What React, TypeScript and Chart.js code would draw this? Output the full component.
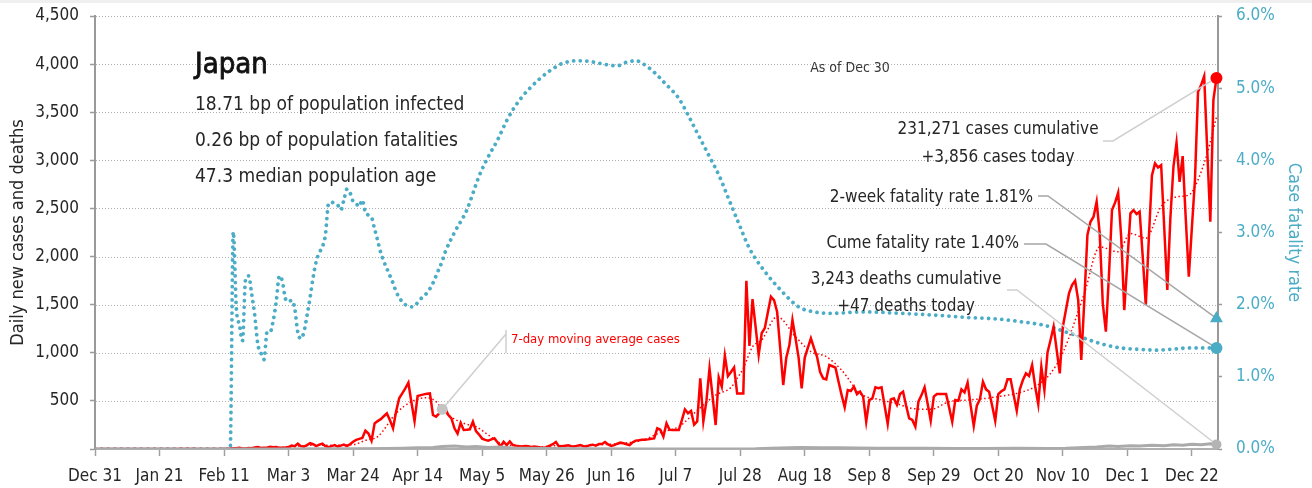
import React, { useEffect, useRef } from "react";
import { Chart, registerables } from "chart.js";

Chart.register(...registerables);

const FONT = '"DejaVu Sans Condensed", "Liberation Sans Narrow", "Arial Narrow", sans-serif';
const RED = "#ff0000";
const TEAL = "#4bacc6";
const TEXT = "#262626";
const LIGHT_LEADER = "#cfcfcf";
const DARK_LEADER = "#a6a6a6";

// x axis: day index from Dec 31, 2019
const TICK_DAYS = [0, 21, 42, 63, 84, 105, 126, 147, 168, 189, 210, 231, 252, 273, 294, 315, 336, 357];
const TICK_LABELS = ["Dec 31", "Jan 21", "Feb 11", "Mar 3", "Mar 24", "Apr 14", "May 5", "May 26", "Jun 16", "Jul 7", "Jul 28", "Aug 18", "Sep 8", "Sep 29", "Oct 20", "Nov 10", "Dec 1", "Dec 22"];
const CASE_TICKS = [0, 500, 1000, 1500, 2000, 2500, 3000, 3500, 4000, 4500];
const RATE_TICKS = [0, 1, 2, 3, 4, 5, 6];

// daily new cases, one value per day starting Dec 31
const DAILY_CASES = [
  0, 0, 0, 0, 0, 0, 0, 0, 0, 0,
  0, 0, 0, 0, 0, 0, 1, 0, 0, 0,
  0, 0, 0, 1, 1, 0, 0, 1, 2, 1,
  3, 0, 2, 0, 0, 1, 0, 0, 1, 0,
  0, 1, 2, 1, 4, 8, 9, 12, 5, 6,
  10, 8, 15, 20, 10, 12, 14, 24, 18, 20,
  12, 14, 16, 20, 35, 30, 55, 30, 25, 40,
  60, 50, 30, 45, 55, 30, 20, 30, 40, 25,
  35, 45, 30, 50, 76, 95, 105, 115, 190, 160,
  87, 265, 290, 310, 340, 370, 300, 215, 390, 527,
  578, 630, 689, 480, 291, 551, 560, 568, 575, 578,
  353, 336, 370, 400, 422, 353, 319, 215, 160, 270,
  197, 200, 205, 285, 185, 150, 108, 95, 87, 100,
  111, 70, 28, 76, 40, 78, 41, 35, 30, 25,
  30, 28, 22, 25, 20, 15, 10, 20, 35, 50,
  73, 26, 30, 35, 38, 30, 25, 35, 40, 28,
  25, 40, 45, 35, 52, 52, 73, 48, 31, 40,
  55, 66, 60, 50, 41, 70, 87, 90, 97, 95,
  100, 107, 110, 215, 200, 128, 267, 200, 197, 197,
  197, 300, 412, 371, 396, 253, 287, 734, 287, 500,
  838, 550, 249, 745, 648, 970, 758, 800, 848, 578,
  578, 578, 1749, 1070, 1558, 1271, 977, 1205, 1257, 1420,
  1583, 1548, 1427, 1050, 665, 950, 1080, 1340, 1150, 950,
  630, 950, 1050, 1150, 1050, 959, 800, 734, 724, 873,
  860, 845, 700, 560, 433, 613, 603, 648, 570, 596,
  544, 284, 509, 526, 641, 631, 641, 450, 260, 516,
  526, 460, 571, 596, 450, 319, 302, 232, 492, 560,
  641, 470, 294, 544, 571, 571, 571, 571, 430, 284,
  509, 502, 620, 589, 689, 450, 239, 450, 516, 699,
  620, 596, 450, 294, 571, 600, 620, 724, 724, 560,
  398, 620, 717, 786, 759, 873, 650, 467, 855, 613,
  1000, 1132, 1271, 1029, 786, 1271, 1444, 1617, 1704, 1749,
  1548, 925, 1548, 2224, 2362, 2414, 2570, 2241, 1514, 1219,
  1800, 2483, 2560, 2663, 2200, 1444, 1950, 2449, 2483, 2442,
  2466, 2000, 1496, 2200, 2843, 2968, 2926, 2950, 2300, 1652,
  2400, 2933, 3183, 2777, 3044, 2400, 1790, 2300, 2795, 3713,
  3782, 3875, 3100, 2362, 3626, 3856,
];

// 7-day moving average of cases (read at selected days)
const MA_DAYS = [44, 49, 56, 63, 70, 77, 84, 88, 92, 98, 103, 108, 111, 113, 116, 120, 124, 128, 132, 137, 144, 151, 158, 165, 172, 178, 184, 190, 196, 202, 207, 209, 211, 214, 217, 222, 228, 233, 238, 243, 249, 256, 261, 266, 272, 278, 284, 290, 295, 300, 306, 311, 315, 322, 327, 333, 337, 342, 347, 352, 356, 358, 362, 365];
const MA_VALUES = [3, 8, 14, 20, 38, 40, 45, 90, 128, 371, 492, 533, 492, 412, 330, 267, 232, 146, 59, 33, 22, 35, 35, 45, 60, 90, 170, 232, 400, 560, 640, 734, 838, 1063, 1133, 1375, 1167, 1011, 960, 820, 578, 509, 470, 422, 412, 491, 509, 526, 550, 578, 648, 786, 1000, 1617, 2100, 2050, 2240, 2190, 2520, 2620, 2640, 2726, 3072, 3450];

// daily deaths
const DEATH_DAYS = [0, 44, 60, 75, 85, 95, 100, 105, 110, 113, 117, 121, 124, 128, 132, 136, 140, 147, 160, 180, 200, 215, 220, 226, 230, 236, 242, 248, 255, 262, 270, 280, 290, 300, 310, 316, 322, 326, 330, 333, 337, 340, 344, 348, 351, 354, 357, 360, 363, 365];
const DEATH_VALUES = [0, 1, 1, 2, 3, 5, 8, 12, 15, 25, 30, 20, 25, 15, 20, 10, 8, 5, 2, 1, 1, 3, 8, 12, 15, 12, 13, 10, 9, 8, 8, 6, 5, 7, 6, 8, 15, 20, 30, 25, 35, 30, 40, 35, 45, 40, 50, 45, 55, 47];

// cumulative case fatality rate, %
const CFR_DAYS = [0, 44, 45, 46, 47, 48, 49, 50, 51, 52, 53, 54, 55, 56, 57, 58, 59, 60, 61, 62, 63, 64, 65, 66, 67, 68, 69, 70, 71, 72, 73, 74, 75, 76, 77, 78, 79, 80, 81, 82, 83, 84, 85, 86, 87, 88, 89, 90, 91, 92, 93, 94, 95, 96, 97, 98, 99, 100, 101, 102, 103, 104, 105, 106, 107, 108, 109, 110, 111, 112, 113, 114, 117, 121, 125, 128, 131, 134, 136, 139, 142, 145, 148, 152, 157, 161, 166, 170, 173, 176, 180, 183, 185, 188, 190, 193, 196, 200, 203, 206, 209, 213, 218, 223, 229, 234, 240, 250, 262, 275, 285, 294, 302, 307, 312, 316, 321, 325, 329, 334, 340, 345, 350, 356, 365];
const CFR_VALUES = [0, 0, 3.01, 1.95, 1.72, 1.5, 2.35, 2.4, 2.15, 1.85, 1.45, 1.33, 1.24, 1.62, 1.62, 1.78, 2.05, 2.4, 2.32, 2.08, 2.04, 2.06, 1.95, 1.62, 1.53, 1.62, 1.85, 2.1, 2.38, 2.6, 2.72, 2.8, 2.97, 3.4, 3.42, 3.4, 3.38, 3.31, 3.45, 3.6, 3.55, 3.43, 3.4, 3.36, 3.45, 3.28, 3.24, 3.21, 3.05, 2.89, 2.72, 2.6, 2.5, 2.4, 2.3, 2.18, 2.1, 2.04, 2.0, 1.98, 1.97, 1.98, 2.03, 2.08, 2.12, 2.16, 2.22, 2.3, 2.4, 2.5, 2.6, 2.73, 3.0, 3.31, 3.78, 4.05, 4.28, 4.55, 4.7, 4.88, 5.02, 5.14, 5.24, 5.34, 5.38, 5.37, 5.33, 5.31, 5.36, 5.38, 5.29, 5.18, 5.09, 4.96, 4.86, 4.63, 4.38, 4.05, 3.8, 3.49, 3.18, 2.78, 2.46, 2.21, 1.97, 1.9, 1.88, 1.9, 1.88, 1.85, 1.82, 1.8, 1.76, 1.73, 1.68, 1.62, 1.55, 1.49, 1.44, 1.4, 1.38, 1.37, 1.38, 1.4, 1.4];

const LAST_DAY = 365;
const CASES_TODAY = 3856;
const DEATHS_TODAY = 47;
const CFR_TWO_WEEK = 1.81;
const CFR_CUME = 1.4;
const MA_LABEL_DAY = 113;
const MA_LABEL_VALUE = 412;

const TITLE = "Japan";
const INFO_LINES = ["18.71 bp of population infected", "0.26 bp of population fatalities", "47.3 median population age"];
const AS_OF = "As of Dec 30";
const CASES_NOTE = ["231,271 cases cumulative", "+3,856 cases today"];
const TWO_WEEK_NOTE = "2-week fatality rate 1.81%";
const CUME_NOTE = "Cume fatality rate 1.40%";
const DEATHS_NOTE = ["3,243 deaths cumulative", "+47 deaths today"];
const MA_NOTE = "7-day moving average cases";

const f = (size: number, weight = "normal") => `${weight} ${size}px ${FONT}`;

const overlay = {
  id: "overlay",
  beforeDraw(chart: any) {
    const { ctx, width, height } = chart;
    ctx.save();
    ctx.fillStyle = "#ffffff";
    ctx.fillRect(0, 0, width, height);
    ctx.fillStyle = "#efefef";
    ctx.fillRect(0, 0, width, 3);
    ctx.restore();
  },
  beforeDatasetsDraw(chart: any) {
    const { ctx, scales, chartArea } = chart;
    const ys = scales.y;
    ctx.save();
    ctx.strokeStyle = "#b0b0b0";
    ctx.lineWidth = 1;
    ctx.setLineDash([1, 2]);
    CASE_TICKS.forEach((v) => {
      if (v === 0) return;
      const y = Math.round(ys.getPixelForValue(v)) + 0.5;
      ctx.beginPath();
      ctx.moveTo(chartArea.left + 1, y);
      ctx.lineTo(chartArea.right - 1, y);
      ctx.stroke();
    });
    ctx.restore();
  },
  afterDatasetDraw(chart: any, args: any) {
    if (args.index !== 3) return;
    const { ctx, scales } = chart;
    const xs = scales.x;
    const ys = scales.y;
    const yr = scales.y1;
    const mx = xs.getPixelForValue(LAST_DAY);
    const seg = (pts: number[][], color: string) => {
      ctx.save();
      ctx.strokeStyle = color;
      ctx.lineWidth = 1.5;
      ctx.beginPath();
      pts.forEach((p, i) => (i === 0 ? ctx.moveTo(p[0], p[1]) : ctx.lineTo(p[0], p[1])));
      ctx.stroke();
      ctx.restore();
    };
    seg([[1103, 141], [1113, 141], [mx, ys.getPixelForValue(CASES_TODAY)]], LIGHT_LEADER);
    seg([[1038, 196], [1048, 196], [mx, yr.getPixelForValue(CFR_TWO_WEEK)]], DARK_LEADER);
    seg([[1024, 244], [1046, 244], [mx, yr.getPixelForValue(CFR_CUME)]], DARK_LEADER);
    seg([[1007, 290], [1017, 290], [mx, ys.getPixelForValue(DEATHS_TODAY)]], LIGHT_LEADER);
    seg([[506, 330], [506, 353]], LIGHT_LEADER);
    seg([[506, 334], [xs.getPixelForValue(MA_LABEL_DAY), ys.getPixelForValue(MA_LABEL_VALUE)]], LIGHT_LEADER);
  },
  afterDraw(chart: any) {
    const { ctx } = chart;
    ctx.save();
    ctx.textBaseline = "alphabetic";
    ctx.fillStyle = "#111111";
    ctx.strokeStyle = "#111111";
    ctx.lineWidth = 0.8;
    ctx.textAlign = "left";
    ctx.font = f(29);
    ctx.fillText(TITLE, 195, 73);
    ctx.strokeText(TITLE, 195, 73);
    ctx.fillStyle = TEXT;
    ctx.font = f(19);
    INFO_LINES.forEach((t, i) => ctx.fillText(t, 195, 110 + i * 36));
    ctx.font = f(14);
    ctx.fillStyle = "#363636";
    ctx.textAlign = "center";
    ctx.fillText(AS_OF, 850, 72);
    ctx.fillStyle = TEXT;
    ctx.font = f(17);
    ctx.fillText(CASES_NOTE[0], 998, 134);
    ctx.fillText(CASES_NOTE[1], 998, 162);
    ctx.fillText(DEATHS_NOTE[0], 906, 284);
    ctx.fillText(DEATHS_NOTE[1], 906, 311);
    ctx.textAlign = "right";
    ctx.fillText(TWO_WEEK_NOTE, 1033, 202);
    ctx.fillText(CUME_NOTE, 1019, 248);
    ctx.textAlign = "left";
    ctx.fillStyle = RED;
    ctx.font = f(13);
    ctx.fillText(MA_NOTE, 511, 343);
    ctx.restore();
  },
};

export default function App() {
  const ref = useRef<HTMLCanvasElement>(null);
  useEffect(() => {
    document.body.style.margin = "0";
    const canvas = ref.current;
    if (!canvas) return;
    const marker = (x: number, y: number, axis: string, color: string, r: number, style = "circle", order = 0) => ({
      label: "marker",
      data: [{ x, y }],
      yAxisID: axis,
      showLine: false,
      pointRadius: r,
      pointStyle: style,
      pointBackgroundColor: color,
      pointBorderColor: color,
      pointBorderWidth: 0,
      order,
      clip: false,
    });
    const chart = new Chart(canvas, {
      type: "line",
      data: {
        datasets: [
          {
            label: "Case fatality rate",
            data: CFR_DAYS.map((d, i) => ({ x: d, y: CFR_VALUES[i] })),
            yAxisID: "y1",
            borderColor: TEAL,
            borderWidth: 3.8,
            borderCapStyle: "round",
            borderDash: [0.01, 6.6],
            cubicInterpolationMode: "monotone",
            pointRadius: 0,
            order: 6,
          },
          {
            label: "Daily cases",
            data: DAILY_CASES.map((v, i) => ({ x: i, y: v })),
            yAxisID: "y",
            borderColor: RED,
            borderWidth: 2.5,
            tension: 0,
            pointRadius: 0,
            order: 5,
          },
          {
            label: "7-day MA",
            data: MA_DAYS.map((d, i) => ({ x: d, y: MA_VALUES[i] })),
            yAxisID: "y",
            borderColor: RED,
            borderWidth: 1.5,
            borderDash: [1.5, 2.5],
            cubicInterpolationMode: "monotone",
            pointRadius: 0,
            order: 4,
          },
          {
            label: "Daily deaths",
            data: DEATH_DAYS.map((d, i) => ({ x: d, y: DEATH_VALUES[i] })),
            yAxisID: "y",
            borderColor: "#aaaaaa",
            borderWidth: 3,
            tension: 0,
            pointRadius: 0,
            order: 3,
          },
          marker(MA_LABEL_DAY, MA_LABEL_VALUE, "y", "#c4c4c4", 5.5, "circle", 2),
          marker(LAST_DAY, DEATHS_TODAY, "y", "#b4b4b4", 5, "circle", 1),
          marker(LAST_DAY, CFR_CUME, "y1", TEAL, 6, "circle", 0),
          marker(LAST_DAY, CFR_TWO_WEEK, "y1", TEAL, 7.5, "triangle", 0),
          marker(LAST_DAY, CASES_TODAY, "y", RED, 6, "circle", 0),
        ] as any,
      },
      options: {
        responsive: false,
        animation: false,
        events: [],
        layout: { padding: { top: 16, left: 0, right: 0, bottom: 0 } },
        plugins: { legend: { display: false }, tooltip: { enabled: false } },
        scales: {
          x: {
            type: "linear",
            min: 0,
            max: 365.5,
            afterBuildTicks: (s: any) => {
              s.ticks = TICK_DAYS.map((v) => ({ value: v }));
            },
            afterFit: (s: any) => {
              s.height = 39;
              s.paddingLeft = 0;
              s.paddingRight = 0;
            },
            ticks: {
              autoSkip: false,
              maxRotation: 0,
              minRotation: 0,
              padding: 10,
              color: TEXT,
              font: { size: 17, family: FONT },
              callback: (v: any) => {
                const i = TICK_DAYS.indexOf(Number(v));
                return i >= 0 ? TICK_LABELS[i] : "";
              },
            },
            grid: { drawOnChartArea: false, drawTicks: true, tickLength: 7, tickColor: "#a0a0a0", tickWidth: 1.5 },
            border: { display: true, color: "#b0b0b0", width: 2 },
          },
          y: {
            type: "linear",
            position: "left",
            min: 0,
            max: 4500,
            afterBuildTicks: (s: any) => {
              s.ticks = CASE_TICKS.map((v) => ({ value: v }));
            },
            afterFit: (s: any) => {
              s.width = 95;
              s.paddingTop = 0;
              s.paddingBottom = 0;
            },
            ticks: {
              padding: 11,
              color: TEXT,
              font: { size: 17, family: FONT },
              callback: (v: any) => (Number(v) === 0 ? "" : Number(v).toLocaleString("en-US")),
            },
            grid: {
              drawOnChartArea: false,
              tickLength: 5,
              tickColor: "#999999",
              tickWidth: 1.5,
            } as any,
            border: { display: true, color: "#999999", width: 2 },
            title: {
              display: true,
              text: "Daily new cases and deaths",
              color: TEXT,
              font: { size: 18, family: FONT },
              padding: { top: 8, bottom: 0 },
            },
          },
          y1: {
            type: "linear",
            position: "right",
            min: 0,
            max: 6,
            afterBuildTicks: (s: any) => {
              s.ticks = RATE_TICKS.map((v) => ({ value: v }));
            },
            afterFit: (s: any) => {
              s.width = 94;
              s.paddingTop = 0;
              s.paddingBottom = 0;
            },
            ticks: {
              padding: 14,
              color: TEAL,
              font: { size: 17, family: FONT },
              callback: (v: any) => Number(v).toFixed(1) + "%",
            },
            grid: { drawOnChartArea: false, tickLength: 4, tickColor: "#999999", tickWidth: 1.5 },
            border: { display: true, color: "#999999", width: 2 },
            title: {
              display: true,
              text: "Case fatality rate",
              color: TEAL,
              font: { size: 18, family: FONT },
              padding: { top: 8, bottom: 0 },
            },
          },
        },
      } as any,
      plugins: [overlay],
    });
    return () => chart.destroy();
  }, []);
  return <canvas ref={ref} width={1312} height={488} style={{ display: "block", width: 1312, height: 488 }} />;
}
